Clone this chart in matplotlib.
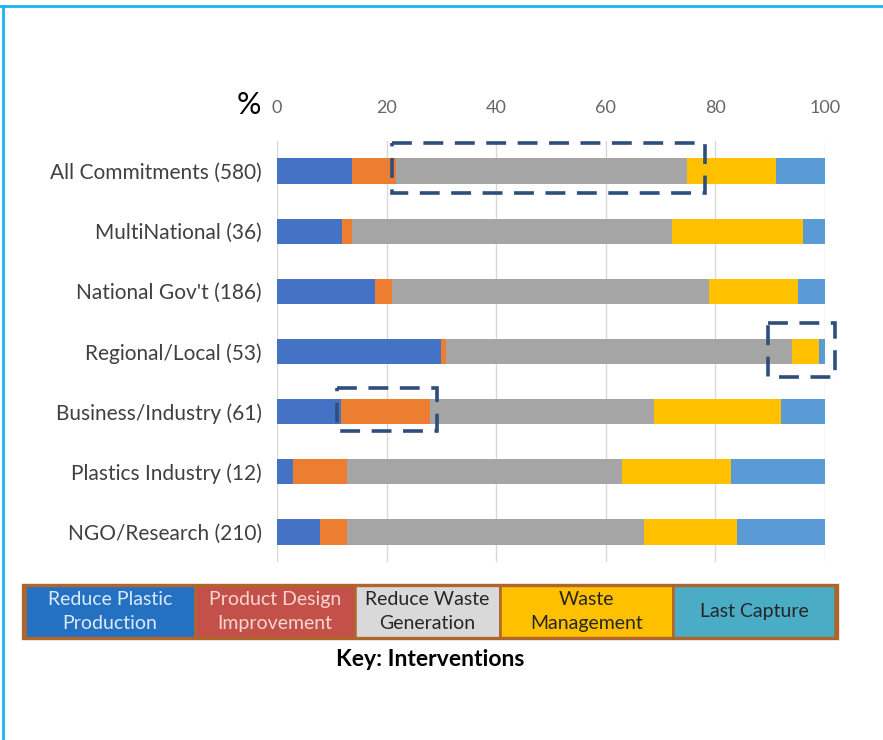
import matplotlib
matplotlib.use("Agg")
import matplotlib.pyplot as plt
from matplotlib.patches import Rectangle
from matplotlib.lines import Line2D

plt.rcParams["font.family"] = ["Lato", "DejaVu Sans"]

categories = [
    "All Commitments (580)",
    "MultiNational (36)",
    "National Gov't (186)",
    "Regional/Local (53)",
    "Business/Industry (61)",
    "Plastics Industry (12)",
    "NGO/Research (210)",
]
# share of commitments (%) per intervention type
reduce_production = [13.7, 11.8, 17.8, 29.9, 11.6, 2.9, 7.8]
design_improvement = [8.1, 1.9, 3.2, 1.0, 16.3, 9.9, 5.0]
reduce_waste = [53.0, 58.3, 57.8, 63.0, 40.9, 50.2, 54.2]
waste_management = [16.2, 24.0, 16.2, 5.0, 23.2, 19.9, 16.9]
last_capture = [9.0, 4.0, 5.0, 1.1, 8.0, 17.1, 16.1]
x_ticks = [0, 20, 40, 60, 80, 100]

key_labels = ["Reduce Plastic\nProduction", "Product Design\nImprovement",
              "Reduce Waste\nGeneration", "Waste\nManagement", "Last Capture"]

# highlighted regions: (row, x start, x end, offset above, offset below)
highlights = [
    (0, 21.0, 78.1, 0.46, 0.37),
    (3, 89.6, 101.9, 0.47, 0.43),
    (4, 11.0, 29.2, 0.40, 0.33),
]

series = [reduce_production, design_improvement, reduce_waste, waste_management, last_capture]
bar_colors = ["#4472C4", "#ED7D31", "#A5A5A5", "#FFC000", "#5B9BD5"]

fig = plt.figure(figsize=(8.83, 7.4), dpi=100)
ax = fig.add_axes([277 / 883, 1 - 562 / 740, 548 / 883, 421 / 740])

y = list(range(len(categories)))
left = [0.0] * len(categories)
for vals, col in zip(series, bar_colors):
    ax.barh(y, vals, left=left, height=0.42, color=col, zorder=2)
    left = [l + v for l, v in zip(left, vals)]

for row, x0, x1, up, down in highlights:
    ax.add_patch(Rectangle((x0, row - up), x1 - x0, up + down, fill=False,
                           edgecolor="#2E4E7C", lw=2.6, linestyle=(0, (5.5, 3.2)),
                           clip_on=False, zorder=4))

ax.set_xlim(0, 100)
ax.set_ylim(len(categories) - 0.5, -0.5)
ax.set_xticks(x_ticks)
ax.set_yticks(y)
ax.set_yticklabels(categories)
ax.xaxis.tick_top()
ax.tick_params(axis="x", length=0, pad=18, labelsize=13, labelcolor="#666666")
ax.tick_params(axis="y", length=0, pad=11, labelsize=15, labelcolor="#404040")
ax.grid(axis="x", color="#D9D9D9", lw=1, zorder=0)
for s in ax.spines.values():
    s.set_visible(False)

fig.text(249 / 883, 1 - 105 / 740, "%", fontsize=22, ha="center", va="center", color="black")

# key boxes below the chart
cell_edges = [25, 195, 355, 500, 673, 835]
cell_colors = ["#2471C1", "#C4504A", "#D9D9D9", "#FFC000", "#4BACC6"]
text_colors = ["#DCEAF8", "#F7D6D2", "#262626", "#262626", "#262626"]
ky0, ky1 = 1 - 638 / 740, 1 - 585 / 740
for i, lab in enumerate(key_labels):
    x0 = cell_edges[i] / 883
    x1 = cell_edges[i + 1] / 883
    fig.add_artist(Rectangle((x0, ky0), x1 - x0, ky1 - ky0, transform=fig.transFigure,
                             facecolor=cell_colors[i], edgecolor="#B0662A", lw=1.8))
    fig.text((x0 + x1) / 2, (ky0 + ky1) / 2, lab, ha="center", va="center",
             fontsize=14, color=text_colors[i], linespacing=1.55)
fig.add_artist(Rectangle((23 / 883, ky0), 814 / 883, ky1 - ky0, transform=fig.transFigure,
                         fill=False, edgecolor="#B0662A", lw=2.4))
fig.text(430 / 883, 1 - 660 / 740, "Key: Interventions", ha="center", va="center",
         fontsize=16.5, fontweight="bold", color="black")

# frame lines at top and left
fig.add_artist(Line2D([0, 1], [1 - 5.5 / 740] * 2, transform=fig.transFigure,
                      color="#19B3F0", lw=2))
fig.add_artist(Line2D([2.5 / 883] * 2, [0, 1 - 5.5 / 740], transform=fig.transFigure,
                      color="#19B3F0", lw=2))

fig.savefig("out.png", dpi=100)
